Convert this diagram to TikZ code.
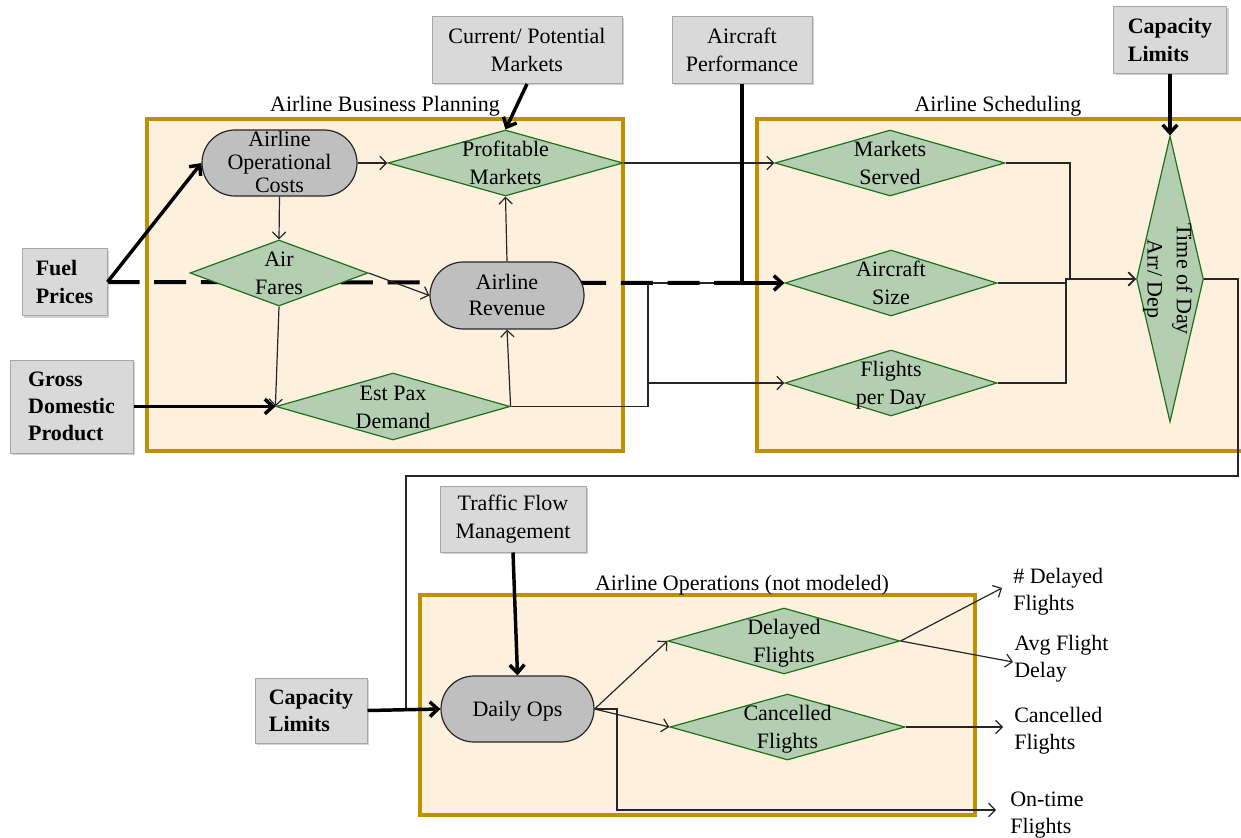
\documentclass[tikz,border=0pt]{standalone}
\usepackage{fontspec}
\setmainfont{Liberation Serif}
\usetikzlibrary{shapes.geometric,shapes.misc,arrows.meta,shadows}
\definecolor{cream}{HTML}{FDF1DE}
\definecolor{gold}{HTML}{BF9000}
\definecolor{dgreen}{HTML}{B3CEB1}
\definecolor{dgreenb}{HTML}{1E6F1E}
\definecolor{stad}{HTML}{BFBFBF}
\definecolor{boxf}{HTML}{D9D9D9}
\definecolor{boxb}{HTML}{A6A6A6}
\newcommand\zt[2][21pt]{\makebox[0pt]{\smash{\raisebox{-5.8pt}{\fontsize{16.5pt}{#1}\selectfont\begin{tabular}{@{}c@{}}#2\end{tabular}}}}}
\pgfdeclarelayer{bg}
\pgfdeclarelayer{mid}
\pgfsetlayers{bg,mid,main}
\tikzset{
  inbox/.style n args={2}{rectangle, draw=boxb, line width=0.75pt, fill=boxf,
    minimum width=#1*0.75pt, minimum height=#2*0.75pt, inner sep=2pt, align=center,
    drop shadow={shadow xshift=1.5pt,shadow yshift=-1.5pt,opacity=0.35}},
  inboxb/.style n args={2}{inbox={#1}{#2}, align=left, font=\fontsize{16.5pt}{20.5pt}\selectfont\bfseries},
  dia/.style n args={2}{diamond, draw=dgreenb, line width=0.9pt, fill=dgreen,
    minimum width=#1*0.75pt, minimum height=#2*0.75pt, inner sep=0pt},
  stadium/.style n args={2}{rounded rectangle, draw=black!85, line width=0.9pt, fill=stad,
    minimum width=#1*0.75pt, minimum height=#2*0.75pt, inner sep=0pt},
  cont/.style={draw=gold, line width=2.6pt, fill=cream},
  thk/.style={line width=2.6pt, -{Straight Barb[length=6pt,width=11pt]}},
  thn/.style={line width=0.9pt, draw=black!85, -{Straight Barb[length=5pt,width=10pt]}},
  pln/.style={line width=0.9pt, draw=black!85},
  dsh/.style={line width=3pt, dash pattern=on 24pt off 11pt},
  outtxt/.style={anchor=west, align=left, inner sep=0pt}
}
\begin{document}
\begin{tikzpicture}[x=0.75pt,y=-0.75pt,font=\fontsize{16.5pt}{20.5pt}\selectfont]
\useasboundingbox (0,0) rectangle (1241,838);

% containers
\begin{pgfonlayer}{bg}
\fill[white] (0,0) rectangle (1241,838);
\draw[cont] (147,119) rectangle (623,451);
\draw[cont] (757,119) rectangle (1255,451);
\draw[cont] (420,595) rectangle (975,815);
\end{pgfonlayer}
\node (labp) at (385,106) {Airline Business Planning};
\node (lsch) at (998,106) {Airline Scheduling};
\node (lops) at (742,585) {Airline Operations (not modeled)};

% input boxes
\node[inbox={190}{67}] (cpm) at (527,50) {Current/ Potential\\Markets};
\node[inbox={140}{67}] (ap) at (742,50) {Aircraft\\Performance};
\node[inboxb={113}{67}] (cl1) at (1170,40) {Capacity\\Limits};
\node[inboxb={85}{67}] (fuel) at (64.5,282) {Fuel\\Prices};
\node[inboxb={123}{93}] (gdp) at (71.5,406.5) {Gross\\Domestic\\Product};
\node[inbox={146}{66}] (tfm) at (513,519) {Traffic Flow\\Management};
\node[inboxb={112}{65}] (cl2) at (311,710.5) {Capacity\\Limits};

% stadiums
\node[stadium={155}{66}] (oc) at (279.5,163) {\zt[17.5pt]{Airline\\Operational\\Costs}};
\node[stadium={154}{67}] (rev) at (507,295.5) {\zt[19pt]{Airline\\Revenue}};
\node[stadium={153}{66}] (dops) at (517.5,709) {\zt{Daily Ops}};

% diamonds
\node[dia={235}{66}] (pm) at (505.5,163) {\zt{Profitable\\Markets}};
\node[dia={178}{66}] (af) at (279,273) {\zt{Air\\Fares}};
\node[dia={234}{67}] (epd) at (393,406.5) {\zt{Est Pax\\Demand}};
\node[dia={230}{66}] (ms) at (890,163) {\zt{Markets\\Served}};
\node[dia={212}{66}] (as) at (891,283) {\zt{Aircraft\\Size}};
\node[dia={212}{66}] (fpd) at (891,383) {\zt{Flights\\per Day}};
\node[dia={286}{67}, rotate=-90] (tod) at (1170,279) {\zt[22pt]{Time of Day\\Arr/ Dep}};
\node[dia={232}{66}] (df) at (784,641) {\zt{Delayed\\Flights}};
\node[dia={235}{66}] (cf) at (787.5,727) {\zt{Cancelled\\Flights}};

% outputs
\node[outtxt] (odl) at (1013,592) {\# Delayed\\Flights};
\node[outtxt] (oavg) at (1014,658.5) {Avg Flight\\Delay};
\node[outtxt] (ocan) at (1014,730.5) {Cancelled\\Flights};
\node[outtxt] (oot) at (1010,815) {On-time\\Flights};
\coordinate (tdl) at (1002,588);
\coordinate (tavg) at (1013,662);
\coordinate (tcan) at (1003,727);
\coordinate (tot) at (996,810);

% thin connectors
\begin{pgfonlayer}{mid}
\draw[pln] (epd.east) -- (648,406.5) |- (as.west);
\draw[thn] (epd.east) -- (648,406.5) |- (fpd.west);
\draw[dsh] (fuel.east) -- (742,283);
\draw[thn] (oc.east) -- (pm.west);
\draw[thn] (oc.south) -- (af.north);
\draw[thn] (af.east) -- (rev.west);
\draw[thn] (af.south) -- (epd.west);
\draw[thn] (epd.east) -- (rev.south);
\draw[thn] (rev.north) -- (pm.south);
\draw[thn] (pm.east) -- (ms.west);
\draw[thn] (ms.east) -- (1070,163) |- (tod.south);
\draw[thn] (as.east) -- (1066,283) |- (tod.south);
\draw[thn] (fpd.east) -- (1066,383) |- (tod.south);
\draw[pln] (tod.north) -- (1238,279) -- (1238,476) -- (406,476) |- (dops.west);
\draw[thn] (dops.east) -- (df.west);
\draw[thn] (dops.east) -- (cf.west);
\draw[thn] (dops.east) -- (617,709) |- (tot);
\draw[thn] (df.east) -- (tdl);
\draw[thn] (df.east) -- (tavg);
\draw[thn] (cf.east) -- (tcan);
\end{pgfonlayer}

% thick connectors
\draw[thk] (fuel.east) -- (oc.west);
\draw[thk] (ap.south) |- (as.west);
\draw[thk] (cpm.south) -- (pm.north);
\draw[thk] (cl1.south) -- (tod.west);
\draw[thk] (gdp.east) -- (epd.west);
\draw[thk] (cl2.east) -- (dops.west);
\draw[thk] (tfm.south) -- (dops.north);
\end{tikzpicture}
\end{document}
